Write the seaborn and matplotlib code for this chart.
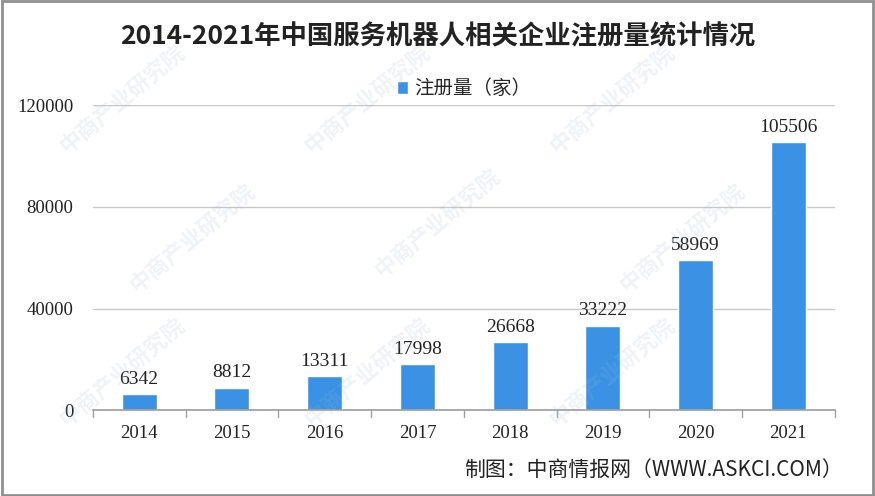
import matplotlib
matplotlib.use("Agg")
import matplotlib.pyplot as plt
import seaborn as sns
import pandas as pd

# ---------------- Data ----------------
years = ["2014", "2015", "2016", "2017", "2018", "2019", "2020", "2021"]
registrations = [6342, 8812, 13311, 17998, 26668, 33222, 58969, 105506]
y_ticks = [0, 40000, 80000, 120000]

title = "2014-2021年中国服务机器人相关企业注册量统计情况"
legend_label = "注册量（家）"
source_note = "制图：中商情报网（WWW.ASKCI.COM）"
watermark = "中商产业研究院"

df = pd.DataFrame({"年份": years, "注册量": registrations})

sns.set_theme(style="white")
plt.rcParams["font.family"] = ["Noto Sans CJK SC", "DejaVu Sans"]
num_font = ["Liberation Serif", "DejaVu Serif"]

bar_color = "#3b92e4"

fig = plt.figure(figsize=(8.75, 4.96), dpi=100)
ax = fig.add_axes([0.106, 0.173, 0.848, 0.615])

sns.barplot(data=df, x="年份", y="注册量", color=bar_color, width=0.38,
            saturation=1, ax=ax, label=legend_label)

ax.set_ylim(0, 120000)
ax.set_xlim(-0.5, len(years) - 0.5)
ax.set_yticks(y_ticks)
ax.set_yticklabels([str(v) for v in y_ticks], family=num_font, fontsize=13.5, color="#222222")
ax.set_xticks(range(len(years)))
ax.set_xticklabels(years, family=num_font, fontsize=13.5, color="#222222")
ax.set_xlabel("")
ax.set_ylabel("")
ax.yaxis.grid(True, color="#c8c8c8", linewidth=1)
ax.set_axisbelow(True)
for s in ["top", "right", "left"]:
    ax.spines[s].set_visible(False)
ax.spines["bottom"].set_color("#a0a0a0")
ax.tick_params(axis="y", length=0, pad=14)
ax.tick_params(axis="x", length=0, pad=11)

# category separator ticks (Excel style)
for i in range(len(years) + 1):
    ax.plot([i - 0.5, i - 0.5], [0, -2500], color="#a0a0a0", lw=1, clip_on=False)

# value labels
for i, v in enumerate(registrations):
    ax.text(i, v + 2500, str(v), ha="center", va="bottom",
            family=num_font, fontsize=14, color="#222222")

ax.legend(loc="upper center", bbox_to_anchor=(0.5, 1.145), frameon=False,
          fontsize=14, handlelength=0.6, handleheight=0.6, handletextpad=0.3)

fig.text(0.5, 0.925, title, ha="center", va="center", fontsize=19,
         fontweight="bold", color="#222222")
fig.text(0.963, 0.052, source_note, ha="right", va="center", fontsize=15,
         color="#222222")

# faint watermarks, kept inside the frame
wm_pos = [(0.14, 0.80), (0.42, 0.80), (0.70, 0.80),
          (0.22, 0.52), (0.50, 0.55), (0.78, 0.52),
          (0.14, 0.25), (0.42, 0.25), (0.70, 0.25)]
for (wx, wy) in wm_pos:
    fig.text(wx, wy, watermark, ha="center", va="center", fontsize=16,
             rotation=40, color="#9bb8d8", alpha=0.16, fontweight="bold")

# frame border
fig.patches.append(plt.Rectangle((0.002, 0.003), 0.996, 0.994, transform=fig.transFigure,
                                 fill=False, edgecolor="#909090", linewidth=2))

fig.savefig("out.png", dpi=100)
